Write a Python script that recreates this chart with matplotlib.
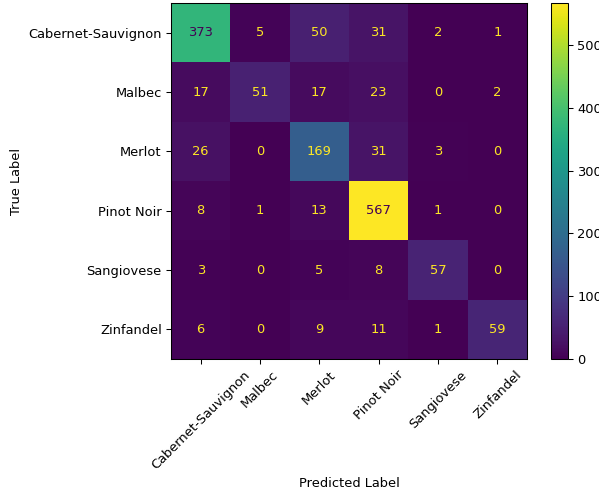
import numpy as np
import matplotlib
matplotlib.use("Agg")
import matplotlib.pyplot as plt

labels = ["Cabernet-Sauvignon", "Malbec", "Merlot", "Pinot Noir", "Sangiovese", "Zinfandel"]
counts = np.array([
    [373, 5, 50, 31, 2, 1],
    [17, 51, 17, 23, 0, 2],
    [26, 0, 169, 31, 3, 0],
    [8, 1, 13, 567, 1, 0],
    [3, 0, 5, 8, 57, 0],
    [6, 0, 9, 11, 1, 59],
])

W, H, DPI = 599, 495, 94
fig = plt.figure(figsize=(W / DPI, H / DPI), dpi=DPI)
ax = fig.add_axes([171 / W, 1 - 359 / H, 356 / W, 356 / H])
cax = fig.add_axes([551 / W, 1 - 359 / H, 17 / W, 356 / H])

cmap = plt.get_cmap("viridis")
im = ax.imshow(counts, cmap=cmap, interpolation="nearest")
fig.colorbar(im, cax=cax)

thresh = (counts.max() + counts.min()) / 2.0
for i in range(counts.shape[0]):
    for j in range(counts.shape[1]):
        color = cmap(0.0) if counts[i, j] > thresh else cmap(1.0)
        ax.text(j, i, format(counts[i, j], "d"), ha="center", va="center", color=color)

ax.set_xticks(np.arange(len(labels)))
ax.set_yticks(np.arange(len(labels)))
ax.set_xticklabels(labels, rotation=45)
ax.set_yticklabels(labels)
ax.set_xlabel("Predicted Label")
ax.set_ylabel("True Label")
ax.set_ylim(len(labels) - 0.5, -0.5)

fig.savefig("out.png", dpi=DPI)
